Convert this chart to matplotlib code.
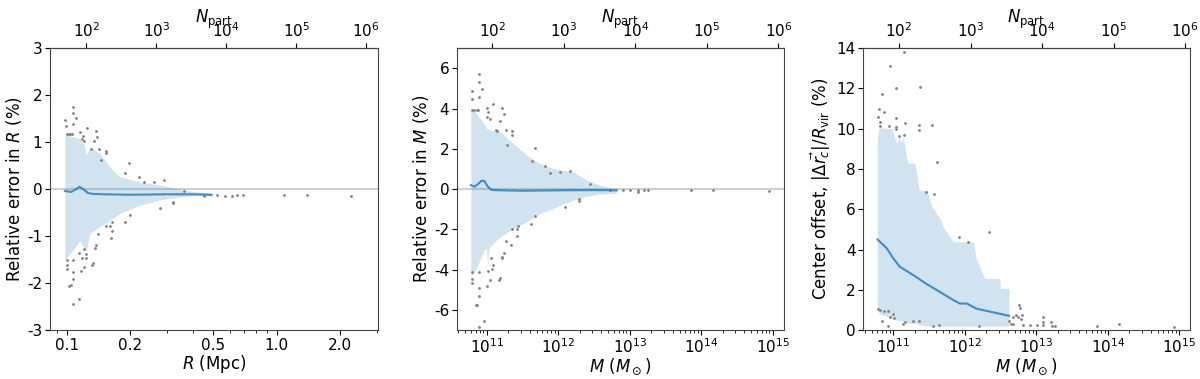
import numpy as np
import matplotlib
matplotlib.use("Agg")
import matplotlib.pyplot as plt
from matplotlib.ticker import FixedLocator, FixedFormatter, NullFormatter, LogLocator, NullLocator

plt.rcParams["axes.unicode_minus"] = False

# ---- panel 1: relative error in R vs R ----
r_band = [0.098, 0.105, 0.116, 0.121, 0.124, 0.129, 0.144, 0.161, 0.179, 0.223, 0.278, 0.33, 0.358, 0.42, 0.49]
r_up = [1.18, 1.12, 1.08, 0.95, 0.72, 0.9, 0.76, 0.47, 0.26, 0.155, 0.085, 0.02, -0.02, -0.06, -0.09]
r_lo = [-1.51, -1.35, -1.09, -1.26, -1.3, -0.94, -0.8, -0.66, -0.52, -0.34, -0.23, -0.18, -0.16, -0.14, -0.15]
r_med_x = [0.098, 0.105, 0.110, 0.115, 0.120, 0.126, 0.132, 0.15, 0.2, 0.3, 0.4, 0.49]
r_med_y = [-0.04, -0.06, -0.01, 0.05, 0.0, -0.08, -0.1, -0.11, -0.12, -0.11, -0.11, -0.12]
r_pts_x = [0.098, 0.099, 0.107, 0.1075, 0.111, 0.107, 0.1245, 0.116, 0.119, 0.118, 0.121,
           0.138, 0.140, 0.135, 0.130, 0.143, 0.154, 0.154, 0.145, 0.198, 0.190, 0.221,
           0.234, 0.260, 0.291, 0.100, 0.102, 0.104, 0.106,
           0.45, 0.52, 0.57, 0.61, 0.65, 0.69, 1.09, 1.40, 2.26, 0.363,
           0.100, 0.1007, 0.100, 0.107, 0.103, 0.1045, 0.107, 0.1075, 0.1075, 0.115,
           0.114, 0.118, 0.121, 0.124, 0.124, 0.1165, 0.121, 0.132, 0.134, 0.136, 0.138,
           0.141, 0.154, 0.161, 0.165, 0.165, 0.163, 0.189, 0.200, 0.278, 0.321, 0.322]
r_pts_y = [1.48, 1.35, 1.75, 1.63, 1.52, 1.39, 1.30, 1.21, 1.13, 1.06, 1.03,
           1.23, 1.11, 1.03, 0.85, 0.85, 0.81, 0.76, 0.62, 0.56, 0.35, 0.26,
           0.15, 0.16, 0.19, 1.17, 1.17, 1.17, 1.17,
           -0.14, -0.13, -0.14, -0.15, -0.13, -0.12, -0.13, -0.12, -0.14, -0.03,
           -1.70, -1.62, -1.50, -1.50, -2.06, -2.04, -1.91, -1.76, -2.45, -2.34,
           -1.35, -1.47, -1.28, -1.37, -1.46, -1.74, -1.65, -1.62, -1.58, -1.26, -1.19,
           -0.96, -0.78, -0.78, -0.71, -0.89, -1.04, -0.71, -0.55, -0.41, -0.30, -0.27]

# ---- panel 2: relative error in M vs M (log10 M) ----
m_band = [10.78, 10.836, 10.976, 11.0, 11.014, 11.03, 11.046, 11.19, 11.372, 11.56, 11.745,
          11.93, 12.21, 12.40, 12.58, 12.82]
m_up = [3.9, 3.85, 3.2, 3.0, 3.0, 2.95, 2.95, 2.85, 2.27, 1.69, 1.28, 1.03, 0.86, 0.45, 0.2, 0.0]
m_lo = [-4.35, -4.1, -2.95, -3.0, -3.86, -3.0, -2.86, -2.37, -1.95, -1.62, -1.21, -0.96, -0.55,
        -0.35, -0.25, -0.2]
m_med_x = [10.78, 10.83, 10.88, 10.93, 10.97, 11.01, 11.06, 11.1, 11.5, 12.0, 12.5, 12.82]
m_med_y = [0.2, 0.12, 0.25, 0.42, 0.4, 0.15, -0.02, -0.05, -0.08, -0.06, -0.05, -0.06]
m_pts_x = [10.79, 10.79, 10.89, 10.89, 10.89, 10.93, 10.80, 10.83, 10.86, 10.88, 11.0, 11.02,
           11.01, 11.05, 11.13, 11.15, 11.09, 11.21, 11.24, 11.19, 11.27, 11.28, 11.36, 11.36,
           11.63, 11.67, 11.81, 11.89, 12.03, 12.17, 12.44,
           12.73, 12.91, 13.0, 13.11, 13.11, 13.20, 13.26, 13.86, 14.17, 14.95,
           10.80, 10.80, 10.80, 10.89, 10.86, 10.85, 10.89, 10.89, 10.89, 10.97, 11.0, 11.02,
           11.05, 11.06, 11.09, 11.08, 11.17, 11.19, 11.21, 11.21, 11.24, 11.27, 11.34, 11.36,
           11.42, 11.43, 11.44, 11.62, 11.67, 12.09, 12.29, 12.29]
m_pts_y = [4.87, 4.47, 5.74, 5.33, 4.58, 4.97, 3.92, 3.92, 3.92, 3.92, 4.04, 3.81,
           3.59, 3.48, 2.93, 2.88, 4.25, 4.05, 3.72, 3.40, 2.93, 2.20, 2.87, 2.67,
           1.40, 2.05, 1.16, 0.80, 0.85, 0.91, 0.24,
           -0.06, -0.05, -0.05, -0.06, -0.12, -0.05, -0.04, -0.05, -0.05, -0.08,
           -4.68, -4.47, -4.10, -4.10, -5.73, -5.76, -5.30, -4.93, -6.87, -6.55, -4.82, -4.06,
           -4.52, -3.44, -3.77, -3.97, -4.49, -4.39, -3.44, -3.37, -3.15, -2.57, -2.75, -2.00,
           -1.98, -2.32, -1.82, -1.75, -1.32, -0.91, -0.60, -0.50]

# ---- panel 3: center offset vs M (log10 M) ----
c_band = [10.777, 10.79, 10.81, 10.98, 11.05, 11.08, 11.11, 11.14, 11.2, 11.30, 11.33, 11.36,
          11.47, 11.53, 11.65, 11.71, 11.84, 12.12, 12.16, 12.28, 12.49, 12.5, 12.62]
c_up = [9.52, 9.9, 10.05, 10.0, 9.25, 9.6, 9.3, 9.6, 8.3, 8.3, 7.7, 6.95,
        6.95, 6.2, 5.55, 5.05, 4.39, 4.39, 3.56, 2.57, 2.57, 2.07, 2.07]
c_lo = [1.0, 0.9, 0.8, 0.6, 0.5, 0.48, 0.45, 0.42, 0.36, 0.33, 0.3, 0.25,
        0.21, 0.2, 0.2, 0.2, 0.2, 0.2, 0.2, 0.2, 0.2, 0.2, 0.2]
c_med_x = [10.78, 10.91, 11.0, 11.09, 11.28, 11.47, 11.65, 11.84, 11.93, 12.03, 12.16, 12.30, 12.40, 12.62]
c_med_y = [4.5, 4.06, 3.56, 3.15, 2.73, 2.28, 1.90, 1.49, 1.32, 1.32, 1.07, 0.96, 0.88, 0.71]
c_pts_x = [11.15, 10.96, 10.84, 11.04, 11.37, 10.80, 10.87, 10.78, 10.81, 10.81, 10.94, 11.04,
           11.04, 11.04, 11.08, 11.15, 11.17, 11.36, 11.36, 11.54, 11.61,
           11.46, 11.57, 11.92, 12.05, 12.34,
           10.78, 10.81, 10.87, 10.92, 10.84, 10.96, 10.99, 11.01, 10.92, 11.14, 11.16, 11.28,
           11.36, 11.56, 11.64, 12.20, 12.62, 12.64, 12.68, 12.71, 12.76, 12.77, 12.80, 12.75,
           12.78, 12.68, 12.81, 12.91, 13.01, 13.09, 13.10, 13.10, 13.20, 13.22, 13.26, 13.85,
           14.16, 14.93]
c_pts_y = [13.82, 13.11, 11.72, 12.0, 12.08, 11.0, 10.82, 10.56, 10.31, 10.13, 10.13, 10.51,
           10.1, 9.98, 9.63, 9.68, 10.29, 10.18, 9.96, 10.18, 8.36,
           6.87, 6.75, 4.6, 4.35, 4.85,
           1.03, 1.0, 0.93, 0.93, 0.46, 0.66, 0.78, 0.58, 0.2, 0.28, 0.39, 0.44,
           0.44, 0.2, 0.23, 0.18, 0.44, 0.28, 0.64, 0.73, 1.24, 1.08, 0.75, 0.63,
           0.55, 0.3, 0.27, 0.25, 0.25, 0.63, 0.41, 0.25, 0.41, 0.2, 0.2, 0.2,
           0.28, 0.13]

M_PART = 10 ** 9.08      # mass per particle
R_N0 = 52.5              # N_part at R = 0.1 Mpc

band_col = "#1f77b4"
pt_col = "#808080"

fig = plt.figure(figsize=(12, 3.79), dpi=100)
ax1 = fig.add_axes([0.0417, 0.129, 0.2733, 0.744])
ax2 = fig.add_axes([0.3808, 0.129, 0.2725, 0.744])
ax3 = fig.add_axes([0.7192, 0.129, 0.2725, 0.744])


def decorate(ax, fwd, inv):
    top = ax.secondary_xaxis("top", functions=(fwd, inv))
    top.set_xscale("log")
    top.xaxis.set_major_locator(FixedLocator([1e2, 1e3, 1e4, 1e5, 1e6]))
    top.xaxis.set_minor_locator(NullLocator())
    top.tick_params(labelsize=11, pad=2)
    top.set_xlabel(r"$N_{\rm part}$", fontsize=12, labelpad=-1)
    ax.tick_params(labelsize=11, pad=2)
    for s in ax.spines.values():
        s.set_color("#444444")


# panel 1
ax1.axhline(0, color="#d0d0d0", lw=1.5, zorder=0)
ax1.fill_between(r_band, r_lo, r_up, color=band_col, alpha=0.2, lw=0)
ax1.scatter(r_pts_x, r_pts_y, s=4, color=pt_col, lw=0)
ax1.plot(r_med_x, r_med_y, color=band_col, alpha=0.8, lw=1.5)
ax1.set_xscale("log")
ax1.set_xlim(0.0833, 3.04)
ax1.set_ylim(-3, 3)
ax1.xaxis.set_major_locator(FixedLocator([0.1, 0.2, 0.5, 1.0, 2.0]))
ax1.xaxis.set_major_formatter(FixedFormatter(["0.1", "0.2", "0.5", "1.0", "2.0"]))
ax1.xaxis.set_minor_formatter(NullFormatter())
ax1.set_xlabel(r"$R$ (Mpc)", fontsize=12, labelpad=0)
ax1.set_ylabel(r"Relative error in $R$ (%)", fontsize=12, labelpad=2)
decorate(ax1, lambda r: R_N0 * (np.asarray(r) / 0.1) ** 3,
         lambda n: 0.1 * (np.asarray(n) / R_N0) ** (1 / 3))

# panel 2
ax2.axhline(0, color="#d0d0d0", lw=1.5, zorder=0)
ax2.fill_between(10 ** np.array(m_band), m_lo, m_up, color=band_col, alpha=0.2, lw=0)
ax2.scatter(10 ** np.array(m_pts_x), m_pts_y, s=4, color=pt_col, lw=0)
ax2.plot(10 ** np.array(m_med_x), m_med_y, color=band_col, alpha=0.8, lw=1.5)
ax2.set_xscale("log")
ax2.set_xlim(10 ** 10.585, 10 ** 15.158)
ax2.set_ylim(-7, 7)
ax2.set_yticks([-6, -4, -2, 0, 2, 4, 6])
ax2.xaxis.set_major_locator(LogLocator(base=10, numticks=10))
ax2.set_xlabel(r"$M$ $(M_\odot)$", fontsize=12, labelpad=0)
ax2.set_ylabel(r"Relative error in $M$ (%)", fontsize=12, labelpad=2)
decorate(ax2, lambda m: np.asarray(m) / M_PART, lambda n: np.asarray(n) * M_PART)

# panel 3
ax3.fill_between(10 ** np.array(c_band), c_lo, c_up, color=band_col, alpha=0.2, lw=0)
ax3.scatter(10 ** np.array(c_pts_x), c_pts_y, s=4, color=pt_col, lw=0)
ax3.plot(10 ** np.array(c_med_x), c_med_y, color=band_col, alpha=0.8, lw=1.5)
ax3.set_xscale("log")
ax3.set_xlim(10 ** 10.577, 10 ** 15.15)
ax3.set_ylim(0, 14)
ax3.set_yticks([0, 2, 4, 6, 8, 10, 12, 14])
ax3.xaxis.set_major_locator(LogLocator(base=10, numticks=10))
ax3.set_xlabel(r"$M$ $(M_\odot)$", fontsize=12, labelpad=0)
ax3.set_ylabel(r"Center offset, $|\Delta\vec{r_c}|/R_{\rm vir}$ (%)", fontsize=12, labelpad=2)
decorate(ax3, lambda m: np.asarray(m) / M_PART, lambda n: np.asarray(n) * M_PART)

fig.savefig("out.png", dpi=100)
